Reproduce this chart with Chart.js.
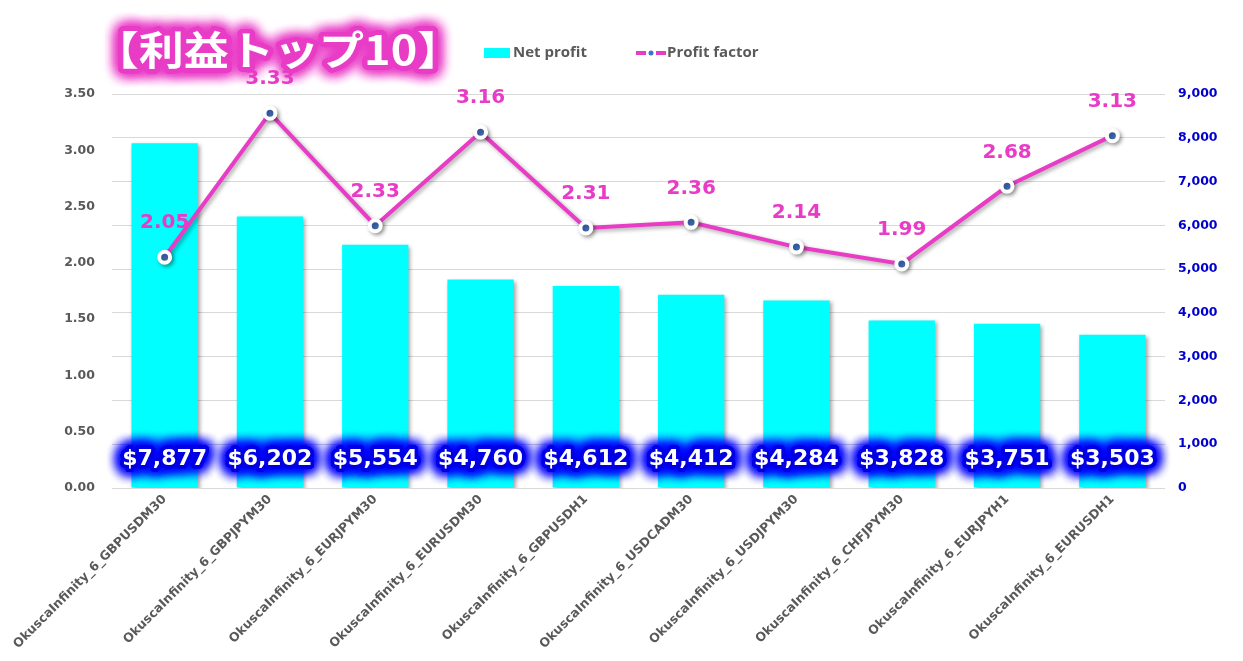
<!DOCTYPE html>
<html>
<head>
<meta charset="utf-8">
<script src="https://cdn.jsdelivr.net/npm/chart.js@4"></script>
<style>
  body { margin: 0; background: #fff; }
</style>
</head>
<body>
<canvas id="myChart" width="1243" height="661"></canvas>
<script>
const ctx = document.getElementById('myChart').getContext('2d');

const titleText = '【利益トップ10】';
const labels = [
  'OkuscaInfinity_6_GBPUSDM30',
  'OkuscaInfinity_6_GBPJPYM30',
  'OkuscaInfinity_6_EURJPYM30',
  'OkuscaInfinity_6_EURUSDM30',
  'OkuscaInfinity_6_GBPUSDH1',
  'OkuscaInfinity_6_USDCADM30',
  'OkuscaInfinity_6_USDJPYM30',
  'OkuscaInfinity_6_CHFJPYM30',
  'OkuscaInfinity_6_EURJPYH1',
  'OkuscaInfinity_6_EURUSDH1'
];
const netProfit = [7877, 6202, 5554, 4760, 4612, 4412, 4284, 3828, 3751, 3503];
const profitFactor = [2.05, 3.33, 2.33, 3.16, 2.31, 2.36, 2.14, 1.99, 2.68, 3.13];

const MAGENTA = '#E83CC6';
const GRAY = '#595959';
const BLUE = '#0000CC';

// soft drop shadow under bars and line
const shadowPlugin = {
  id: 'shadow',
  beforeDatasetDraw(chart) {
    const c = chart.ctx;
    c.save();
    c.shadowColor = 'rgba(0,0,0,0.35)';
    c.shadowBlur = 4;
    c.shadowOffsetX = 2;
    c.shadowOffsetY = 2;
  },
  afterDatasetDraw(chart) {
    chart.ctx.restore();
  }
};

// value labels, title and legend
const labelPlugin = {
  id: 'labels',
  afterDatasetsDraw(chart) {
    const c = chart.ctx;
    const barMeta = chart.getDatasetMeta(0);
    const lineMeta = chart.getDatasetMeta(1);

    // profit factor labels
    c.save();
    c.font = 'bold 20px "DejaVu Sans"';
    c.fillStyle = MAGENTA;
    c.textAlign = 'center';
    c.textBaseline = 'middle';
    lineMeta.data.forEach((pt, i) => {
      c.fillText(profitFactor[i].toFixed(2), pt.x, pt.y - 34);
    });
    c.restore();

    // net profit labels with blue glow
    c.save();
    c.font = 'bold 22px "DejaVu Sans"';
    c.textAlign = 'center';
    c.textBaseline = 'middle';
    barMeta.data.forEach((bar, i) => {
      const txt = '$' + netProfit[i].toLocaleString('en-US');
      const y = bar.base - 28;
      c.shadowColor = '#0000FF';
      c.shadowBlur = 14;
      c.strokeStyle = '#0000E0';
      c.fillStyle = '#0000E0';
      c.lineJoin = 'round';
      c.lineWidth = 7;
      for (let k = 0; k < 5; k++) c.strokeText(txt, bar.x, y);
      c.shadowBlur = 0;
      c.fillStyle = '#fff';
      c.fillText(txt, bar.x, y);
    });
    c.restore();
  },
  afterDraw(chart) {
    const c = chart.ctx;

    // title with magenta glow, ink stretched to the reference width
    c.save();
    c.font = 'bold 40px "Noto Sans CJK JP"';
    c.textAlign = 'left';
    c.textBaseline = 'middle';
    const m = c.measureText(titleText);
    const inkW = m.actualBoundingBoxLeft + m.actualBoundingBoxRight;
    const s = 310 / inkW;
    c.translate(123 + m.actualBoundingBoxLeft * s, 50);
    c.scale(s, 1);
    c.lineJoin = 'round';
    c.shadowColor = MAGENTA;
    c.shadowBlur = 14;
    c.strokeStyle = MAGENTA;
    c.lineWidth = 9;
    for (let k = 0; k < 4; k++) c.strokeText(titleText, 0, 0);
    c.shadowBlur = 0;
    c.fillStyle = '#fff';
    c.fillText(titleText, 0, 0);
    c.restore();

    // legend
    c.save();
    c.font = 'bold 15px "Open Sans"';
    c.textBaseline = 'middle';
    c.fillStyle = '#00FFFF';
    c.fillRect(484, 48, 26, 10);
    c.fillStyle = GRAY;
    c.fillText('Net profit', 513, 53);
    c.strokeStyle = MAGENTA;
    c.lineWidth = 4;
    c.beginPath();
    c.moveTo(636, 53); c.lineTo(646, 53);
    c.moveTo(656, 53); c.lineTo(666, 53);
    c.stroke();
    c.fillStyle = '#4472C4';
    c.beginPath();
    c.arc(651, 53, 2.5, 0, Math.PI * 2);
    c.fill();
    c.fillStyle = GRAY;
    c.fillText('Profit factor', 667, 53);
    c.restore();
  }
};

const myChart = new Chart(ctx, {
  type: 'bar',
  data: {
    labels,
    datasets: [
      {
        type: 'bar',
        label: 'Net profit',
        data: netProfit,
        yAxisID: 'y1',
        backgroundColor: '#00FFFF',
        barPercentage: 0.63,
        categoryPercentage: 1,
        order: 1
      },
      {
        type: 'line',
        label: 'Profit factor',
        data: profitFactor,
        yAxisID: 'y',
        borderColor: MAGENTA,
        borderWidth: 4,
        pointRadius: 5.5,
        pointBorderWidth: 4,
        pointBackgroundColor: '#4472C4',
        pointBorderColor: '#fff',
        tension: 0,
        order: 0
      }
    ]
  },
  options: {
    responsive: false,
    animation: false,
    layout: { padding: { top: 94, left: 0, right: 0, bottom: 0 } },
    plugins: {
      legend: { display: false },
      tooltip: { enabled: false }
    },
    scales: {
      x: {
        grid: { display: false, drawTicks: false },
        border: { display: false },
        ticks: {
          minRotation: 45,
          maxRotation: 45,
          padding: 4,
          color: GRAY,
          font: { family: 'DejaVu Sans', weight: 'bold', size: 12.5 }
        },
        afterFit(s) { s.height = 173; }
      },
      y: {
        position: 'left',
        min: 0,
        max: 3.5,
        grid: { display: false, drawTicks: false },
        border: { display: false },
        ticks: {
          stepSize: 0.5,
          padding: 17,
          color: GRAY,
          font: { family: 'DejaVu Sans', weight: 'bold', size: 12.5 },
          callback: v => v.toFixed(2)
        },
        afterFit(s) { s.width = 112; }
      },
      y1: {
        position: 'right',
        min: 0,
        max: 9000,
        grid: { color: '#D9D9D9', lineWidth: 1, drawTicks: false },
        border: { display: false },
        ticks: {
          stepSize: 1000,
          padding: 13,
          color: BLUE,
          font: { family: 'DejaVu Sans', weight: 'bold', size: 12.5 },
          callback: v => v.toLocaleString('en-US')
        },
        afterFit(s) { s.width = 78; }
      }
    }
  },
  plugins: [shadowPlugin, labelPlugin]
});
</script>
</body>
</html>
